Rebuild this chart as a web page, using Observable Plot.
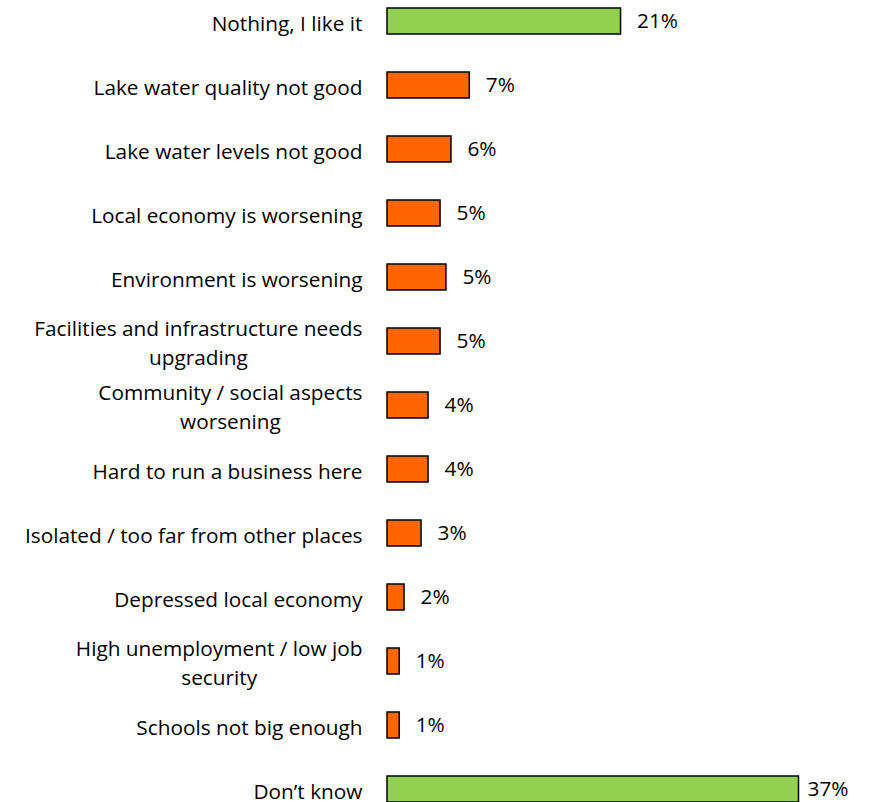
<!DOCTYPE html>
<html>
<head>
<meta charset="utf-8">
<script src="https://cdn.jsdelivr.net/npm/d3@7"></script>
<script src="https://cdn.jsdelivr.net/npm/@observablehq/plot@0.6"></script>
<style>
  html, body { margin: 0; padding: 0; background: #fff; overflow: hidden; }
  #chart svg { display: block; }
</style>
</head>
<body>
<div id="chart"></div>
<script>
const categories = [
  "Nothing, I like it",
  "Lake water quality not good",
  "Lake water levels not good",
  "Local economy is worsening",
  "Environment is worsening",
  "Facilities and infrastructure needs\nupgrading",
  "Community / social aspects\nworsening",
  "Hard to run a business here",
  "Isolated / too far from other places",
  "Depressed local economy",
  "High unemployment / low job\nsecurity",
  "Schools not big enough",
  "Don\u2019t know"
];
const values = [21, 7.4, 5.75, 4.77, 5.3, 4.77, 3.69, 3.69, 3.06, 1.53, 1.1, 1.1, 37];
const valueLabels = ["21%", "7%", "6%", "5%", "5%", "5%", "4%", "4%", "3%", "2%", "1%", "1%", "37%"];
const groups = ["neutral", "concern", "concern", "concern", "concern", "concern", "concern", "concern", "concern", "concern", "concern", "concern", "neutral"];

const data = categories.map((c, i) => ({category: c, value: values[i], label: valueLabels[i], group: groups[i], last: i === categories.length - 1}));

const FONT = "'Open Sans', Lato, sans-serif";

const plot = Plot.plot({
  width: 873,
  height: 802,
  marginLeft: 387,
  marginRight: 74.5,
  marginTop: 0,
  marginBottom: 0,
  style: {fontFamily: FONT, fontSize: "20.8px", color: "#000", background: "#fff"},
  x: {domain: [0, 37], axis: null},
  y: {domain: categories, range: [8.3, 802.8], paddingInner: 0.586, paddingOuter: 0, axis: null},
  color: {domain: ["neutral", "concern"], range: ["#92D050", "#FF6600"]},
  marks: [
    Plot.barX(data, {x: "value", y: "category", fill: "group", stroke: "#000", strokeWidth: 1.5}),
    Plot.text(data, {x: 0, y: "category", text: "category", textAnchor: "end", dx: -25, lineHeight: 1.35, fill: "#000", className: "cat-labels"}),
    Plot.text(data.filter(d => !d.last), {x: "value", y: "category", text: "label", textAnchor: "start", dx: 16, fill: "#000"}),
    Plot.text(data.filter(d => d.last), {x: "value", y: "category", text: "label", textAnchor: "start", dx: 8.5, fill: "#000"})
  ]
});

document.getElementById("chart").appendChild(plot);

// center wrapped lines on each other (as in the original chart)
plot.querySelectorAll("g.cat-labels text").forEach(t => {
  const spans = t.querySelectorAll("tspan");
  if (spans.length < 2) return;
  const lens = Array.from(spans, s => s.getComputedTextLength());
  const max = Math.max(...lens);
  spans.forEach((s, i) => s.setAttribute("x", -(max - lens[i]) / 2));
});
</script>
</body>
</html>
